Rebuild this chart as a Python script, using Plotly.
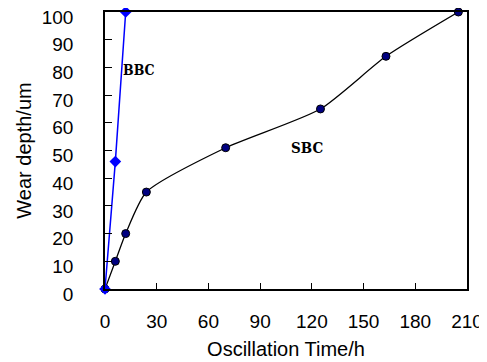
import plotly.graph_objects as go

sbc_time = [0, 6, 12, 24, 70, 125, 163, 205]
sbc_depth = [0, 10, 20, 35, 51, 65, 84, 100]
bbc_time = [0, 6, 12]
bbc_depth = [0, 46, 100]
x_ticks = [0, 30, 60, 90, 120, 150, 180, 210]
y_ticks = [0, 10, 20, 30, 40, 50, 60, 70, 80, 90, 100]

fig = go.Figure()
fig.add_trace(go.Scatter(
    x=sbc_time, y=sbc_depth, mode="lines+markers",
    line=dict(color="black", width=1.3, shape="spline", smoothing=0.6),
    marker=dict(symbol="circle", size=8, color="#000080", line=dict(color="black", width=1)),
    cliponaxis=False, showlegend=False))
fig.add_trace(go.Scatter(
    x=bbc_time, y=bbc_depth, mode="lines+markers",
    line=dict(color="#0000ff", width=1.5),
    marker=dict(symbol="diamond", size=9, color="#0000ff"),
    cliponaxis=False, showlegend=False))

fig.add_annotation(x=20, y=79, text="BBC", showarrow=False,
                   font=dict(family="DejaVu Serif Condensed", size=14, color="black", weight="bold"))
fig.add_annotation(x=117, y=51, text="SBC", showarrow=False,
                   font=dict(family="DejaVu Serif Condensed", size=15, color="black", weight="bold"))

tick_font = dict(family="Liberation Sans, Arial", size=19, color="black")
title_font = dict(family="Liberation Sans, Arial", size=20, color="black")
fig.update_xaxes(range=[0, 210], tickvals=x_ticks, ticks="inside", ticklen=6, tickwidth=1,
                 tickcolor="black", showline=True, linecolor="black", linewidth=1.5,
                 mirror=True, showgrid=False, zeroline=False, tickfont=tick_font,
                 ticklabelstandoff=14, ticklabeloverflow="allow", automargin=False,
                 title=dict(text="Oscillation Time/h", font=title_font, standoff=11))
fig.update_yaxes(range=[0, 100], tickvals=y_ticks, ticks="inside", ticklen=7, tickwidth=1,
                 tickcolor="black", showline=True, linecolor="black", linewidth=1.5,
                 mirror=True, showgrid=False, zeroline=False, tickfont=tick_font,
                 ticklabelstandoff=26, ticklabelshift=5, ticklabeloverflow="allow",
                 automargin=False,
                 title=dict(text="Wear depth/um", font=title_font, standoff=5))
# page body adds an 8px offset, so the figure is sized/margined to compensate
fig.update_layout(width=479, height=354, margin=dict(l=97, r=20, t=3.5, b=72.5),
                  paper_bgcolor="white", plot_bgcolor="white")
fig.write_html("out.html")
